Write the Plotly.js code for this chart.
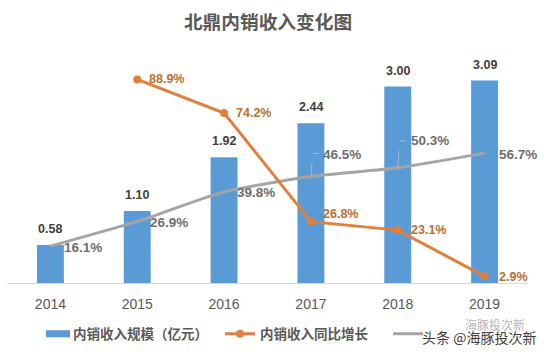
<!DOCTYPE html>
<html><head><meta charset="utf-8">
<script src="https://cdn.plot.ly/plotly-3.0.1.min.js"></script>
<style>html,body{margin:0;padding:0;background:#fff}</style></head>
<body><div id="chart" style="width:544px;height:354px"></div>
<script>
const years = ['2014','2015','2016','2017','2018','2019'];
const revenue = [0.58,1.10,1.92,2.44,3.00,3.09];
const revenueGrowth = [null,88.9,74.2,26.8,23.1,2.9];
const share = [16.1,26.9,39.8,46.5,50.3,56.7];
const seriesNames = ['内销收入规模（亿元）','内销收入同比增长'];
const chartTitle = '北鼎内销收入变化图';

const cjk = '"Noto Sans CJK SC","Liberation Sans",sans-serif';
const num = '"Liberation Sans",Arial,sans-serif';
const shareLabelOffset = {x:[12,11,11,10,11,12], y:[-1,-1,-1,22,27,-1]};
const growthLabelOffset = {x:[0,10,10,10,11,12], y:[0,0,0,8,0,-1]};
const leaderYears = [3,4];

const ann = [];
years.forEach((c,i)=>{
  ann.push({xref:'x',x:i,y:revenue[i],yref:'y',text:revenue[i].toFixed(2),showarrow:false,yshift:16,
    font:{family:num,size:12.5,color:'#404040',weight:700}});
  ann.push({xref:'x',x:i,y:share[i],yref:'y2',text:share[i].toFixed(1)+'%',showarrow:false,xanchor:'left',
    xshift:shareLabelOffset.x[i],yshift:shareLabelOffset.y[i],
    font:{family:num,size:13.5,color:'#6e6e6e',weight:700}});
  if(revenueGrowth[i]!==null) ann.push({xref:'x',x:i,y:revenueGrowth[i],yref:'y2',text:revenueGrowth[i].toFixed(1)+'%',showarrow:false,xanchor:'left',
    xshift:growthLabelOffset.x[i],yshift:growthLabelOffset.y[i],
    font:{family:num,size:12.5,color:'#b8702f',weight:700}});
});
leaderYears.forEach(i=>{
  const h = i===3?23:27;
  ann.push({xref:'x',x:i,y:share[i],yref:'y2',text:' ',showarrow:true,arrowhead:0,arrowwidth:0.8,arrowcolor:'#bfbfbf',ax:2,ay:-h,standoff:0});
  ann.push({xref:'x',x:i,y:share[i],yref:'y2',text:' ',showarrow:true,arrowhead:0,arrowwidth:0.8,arrowcolor:'#bfbfbf',ax:9,ay:0,standoff:0,xshift:2,yshift:h});
});
ann.push({xref:'paper',yref:'paper',x:(420-7)/521,y:(283-337)/243,xanchor:'left',yanchor:'middle',showarrow:false,
  text:'头条 @海豚投次新',font:{family:cjk,size:14,color:'#3c3c3c'}});
ann.push({xref:'paper',yref:'paper',x:(463-7)/521,y:(283-325)/243,xanchor:'left',yanchor:'middle',showarrow:false,
  text:'海豚投次新',opacity:0.55,font:{family:cjk,size:12,color:'#777'}});

const traces = [
 {type:'bar',name:seriesNames[0],x:years,y:revenue,width:0.31,marker:{color:'#5b9bd5'},legend:'legend',hoverinfo:'skip'},
 {type:'scatter',mode:'lines',name:' ',x:years,y:share,yaxis:'y2',line:{color:'#a5a5a5',width:3,shape:'spline',smoothing:0.6},legend:'legend3',hoverinfo:'skip'},
 {type:'scatter',mode:'lines+markers',name:seriesNames[1],x:years,y:revenueGrowth,yaxis:'y2',line:{color:'#e17f3c',width:3},marker:{color:'#e17f3c',size:8},legend:'legend2',hoverinfo:'skip'}
];
const lg = (x)=>({xref:'container',yref:'container',x:x/544,y:1-334/354,xanchor:'left',yanchor:'middle',orientation:'h',bgcolor:'rgba(0,0,0,0)',
  font:{family:cjk,size:13.5,color:'#595959',weight:700}});
const layout = {
  width:544,height:354,margin:{l:7,r:16,t:40,b:71},paper_bgcolor:'#fff',plot_bgcolor:'#fff',showlegend:true,
  title:{text:chartTitle,x:268/544,xref:'container',xanchor:'center',y:1-22/354,yref:'container',yanchor:'middle',font:{family:cjk,size:18.7,color:'#595959',weight:700}},
  xaxis:{type:'category',categoryorder:'array',categoryarray:years,range:[-0.5,5.5],showgrid:false,zeroline:false,showline:true,linecolor:'#d9d9d9',linewidth:1,ticks:'outside',ticklen:8,tickcolor:'rgba(0,0,0,0)',tickfont:{family:num,size:14,color:'#595959'}},
  yaxis:{range:[0,3.71],visible:false,fixedrange:true},
  yaxis2:{range:[0,106.1],visible:false,overlaying:'y',side:'right',fixedrange:true},
  legend:lg(33),legend2:lg(220),legend3:lg(388),
  annotations:ann
};
function widenSwatch(){
  document.querySelectorAll('#chart .legendpoints path').forEach(p=>{
    const d=p.getAttribute('d')||'';
    if(d.replace(/\s/g,'').startsWith('M6,6')||p.classList.contains('legendbar')||p.classList.contains('legendundefined')) p.setAttribute('d','M17,3.5H-7V-3.5H17Z');
  });
}
Plotly.newPlot('chart',traces,layout,{displayModeBar:false,staticPlot:true}).then(()=>{
  widenSwatch();
  requestAnimationFrame(widenSwatch);
  setTimeout(widenSwatch,50);
});
</script></body></html>
